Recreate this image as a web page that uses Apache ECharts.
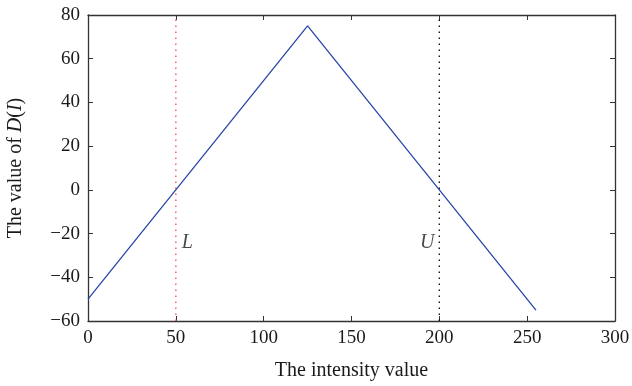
<!DOCTYPE html>
<html><head><meta charset="utf-8">
<script src="https://cdn.jsdelivr.net/npm/echarts@6/dist/echarts.min.js"></script>
<style>html,body{margin:0;padding:0;background:#fff}#c{width:632px;height:386px}</style>
</head><body><div id="c"></div>
<script>
var xTicks = {min: 0, max: 300, interval: 50};
var yTicks = {min: -60, max: 80, interval: 20};
var curveX = [0, 125, 255];
var curveY = [-50, 75, -55];
var lowerX = 50, upperX = 200;
var labelY = -24;

var font = 'Liberation Serif';
var chart = echarts.init(document.getElementById('c'));
var axisCommon = {
  axisLine: {show: true, onZero: false, lineStyle: {color: '#333', width: 1.3}},
  axisTick: {show: true, inside: true, length: 5, lineStyle: {color: '#333'}},
  splitLine: {show: false}
};
chart.setOption({
  animation: false,
  grid: {left: 88, right: 17, top: 15, bottom: 65, containLabel: false, outerBoundsMode: 'none'},
  xAxis: [
    Object.assign({type: 'value', min: xTicks.min, max: xTicks.max, interval: xTicks.interval, position: 'bottom',
      name: 'The intensity value', nameLocation: 'middle', nameGap: 40,
      nameTextStyle: {fontFamily: font, fontSize: 20, color: '#1a1a1a'},
      axisLabel: {fontFamily: font, fontSize: 19, color: '#1a1a1a', margin: 8}}, axisCommon),
    Object.assign({type: 'value', min: xTicks.min, max: xTicks.max, interval: xTicks.interval, position: 'top',
      axisLabel: {show: false}}, axisCommon)
  ],
  yAxis: [
    Object.assign({type: 'value', min: yTicks.min, max: yTicks.max, interval: yTicks.interval, position: 'left',
      name: 'The value of {i|D}({i|I})', nameLocation: 'middle', nameGap: 62,
      nameTextStyle: {fontFamily: font, fontSize: 20, color: '#1a1a1a',
        rich: {i: {fontFamily: font, fontSize: 20, fontStyle: 'italic', color: '#1a1a1a'}}},
      axisLabel: {fontFamily: font, fontSize: 19, color: '#1a1a1a', margin: 8,
        formatter: function (v) { return v < 0 ? '\u2212' + Math.abs(v) : String(v); }}}, axisCommon),
    Object.assign({type: 'value', min: yTicks.min, max: yTicks.max, interval: yTicks.interval, position: 'right',
      axisLabel: {show: false}}, axisCommon)
  ],
  series: [
    {type: 'line', data: [[lowerX, yTicks.min], [lowerX, yTicks.max]], symbol: 'none',
      lineStyle: {color: '#ff5555', width: 1.4, type: [1.5, 4.5]}},
    {type: 'line', data: [[upperX, yTicks.min], [upperX, yTicks.max]], symbol: 'none',
      lineStyle: {color: '#111', width: 1.4, type: [1.5, 4.5]}},
    {type: 'line', data: curveX.map(function (x, i) { return [x, curveY[i]]; }), symbol: 'none',
      lineStyle: {color: '#2a46a8', width: 1.3}},
    {type: 'scatter', symbolSize: 0, data: [
      {value: [lowerX, labelY], label: {formatter: 'L', position: 'right', offset: [2, 0]}},
      {value: [upperX, labelY], label: {formatter: 'U', position: 'left', offset: [-1, 0]}}
    ], label: {show: true, fontFamily: font, fontSize: 20, fontStyle: 'italic', color: '#1a1a1a', distance: 4}}
  ]
});
</script></body></html>
